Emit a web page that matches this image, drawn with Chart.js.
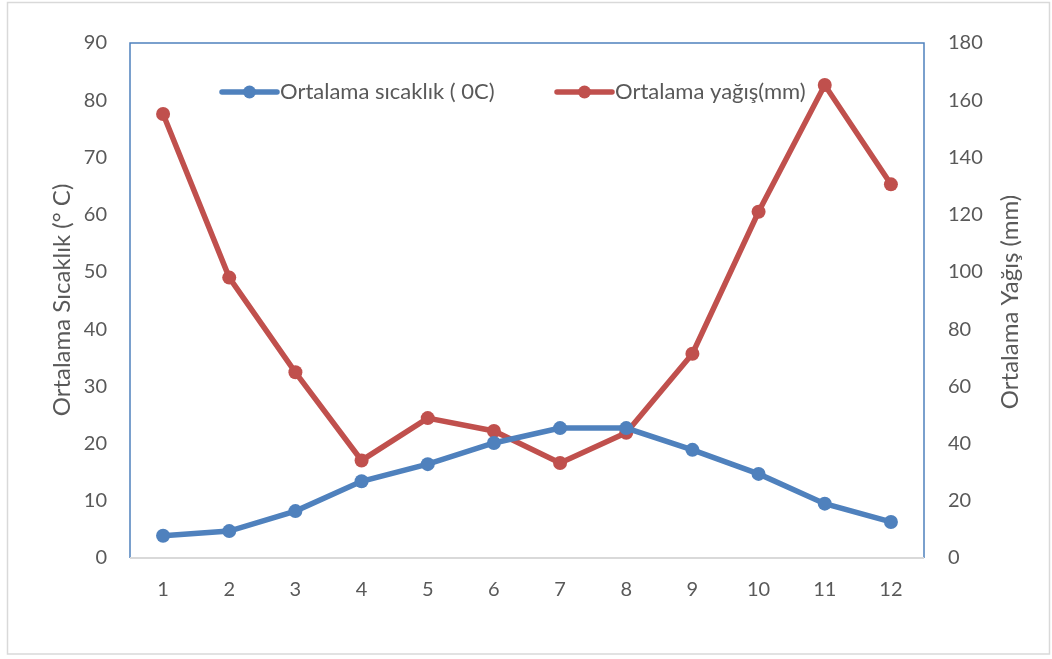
<!DOCTYPE html>
<html>
<head>
<meta charset="utf-8">
<script src="https://cdn.jsdelivr.net/npm/chart.js@4"></script>
<style>
  html, body { margin: 0; padding: 0; background: #ffffff; }
  canvas { display: block; }
</style>
</head>
<body>
<canvas id="c" width="1052" height="659"></canvas>
<script>
// Monthly climate summary: mean temperature (left axis) and mean precipitation (right axis)
const months = ['1', '2', '3', '4', '5', '6', '7', '8', '9', '10', '11', '12'];
const temperature = [3.9, 4.7, 8.2, 13.4, 16.4, 20.1, 22.7, 22.7, 18.9, 14.7, 9.5, 6.3];
const precipitation = [155.2, 98.0, 64.9, 34.1, 48.9, 44.4, 33.2, 43.8, 71.4, 121.0, 165.3, 130.6];
const seriesNames = ['Ortalama sıcaklık ( 0C)', 'Ortalama yağış(mm)'];
const axisTitles = ['Ortalama Sıcaklık (° C)', 'Ortalama Yağış (mm)'];

const FONT = 'Lato, "Open Sans", sans-serif';
const TEXT = '#595959';
const BLUE = '#4f81bd';
const RED = '#c0504d';

// Frame, axis titles and an in-plot legend
const decorations = {
  id: 'decorations',
  beforeDatasetsDraw(chart) {
    const { ctx, chartArea: a } = chart;
    ctx.save();
    // outer chart border
    ctx.strokeStyle = '#d9d9d9';
    ctx.lineWidth = 1.5;
    ctx.strokeRect(7.5, 2.5, 1042, 651.5);
    // plot area border
    ctx.strokeStyle = BLUE;
    ctx.lineWidth = 1.5;
    ctx.beginPath();
    ctx.moveTo(a.left, a.bottom);
    ctx.lineTo(a.left, a.top);
    ctx.lineTo(a.right, a.top);
    ctx.lineTo(a.right, a.bottom);
    ctx.stroke();
    // category axis line
    ctx.strokeStyle = '#d9d9d9';
    ctx.lineWidth = 2;
    ctx.beginPath();
    ctx.moveTo(a.left, a.bottom);
    ctx.lineTo(a.right, a.bottom);
    ctx.stroke();
    ctx.restore();
  },
  afterDraw(chart) {
    const { ctx } = chart;
    ctx.save();
    ctx.fillStyle = TEXT;
    ctx.font = '24px ' + FONT;
    ctx.textAlign = 'center';
    ctx.textBaseline = 'middle';
    // axis titles
    [[62, 300, axisTitles[0]], [1010, 302, axisTitles[1]]].forEach(([x, y, t]) => {
      ctx.save();
      ctx.translate(x, y);
      ctx.rotate(-Math.PI / 2);
      ctx.fillText(t, 0, 0);
      ctx.restore();
    });
    // legend entries
    ctx.font = '22px ' + FONT;
    const entries = [{ x: 222, ds: chart.data.datasets[0] }, { x: 557, ds: chart.data.datasets[1] }];
    const ly = 92;
    entries.forEach(({ x, ds }) => {
      ctx.strokeStyle = ds.borderColor;
      ctx.lineWidth = ds.borderWidth;
      ctx.lineCap = 'round';
      ctx.beginPath();
      ctx.moveTo(x, ly);
      ctx.lineTo(x + 55, ly);
      ctx.stroke();
      ctx.fillStyle = ds.pointBackgroundColor;
      ctx.beginPath();
      ctx.arc(x + 27.5, ly, 6.5, 0, Math.PI * 2);
      ctx.fill();
      ctx.fillStyle = TEXT;
      ctx.textAlign = 'left';
      ctx.fillText(ds.label, x + 58, ly);
    });
    ctx.restore();
  }
};

new Chart(document.getElementById('c'), {
  type: 'line',
  data: {
    labels: months,
    datasets: [
      {
        label: seriesNames[0],
        data: temperature,
        yAxisID: 'yTemp',
        borderColor: BLUE,
        backgroundColor: BLUE,
        pointBackgroundColor: BLUE,
        pointBorderColor: BLUE,
        borderWidth: 5.5,
        pointRadius: 7,
        pointBorderWidth: 0,
        tension: 0
      },
      {
        label: seriesNames[1],
        data: precipitation,
        yAxisID: 'yRain',
        borderColor: RED,
        backgroundColor: RED,
        pointBackgroundColor: RED,
        pointBorderColor: RED,
        borderWidth: 5.5,
        pointRadius: 7,
        pointBorderWidth: 0,
        tension: 0
      }
    ]
  },
  options: {
    responsive: false,
    animation: false,
    events: [],
    layout: { padding: { top: 43, left: 0, right: 0, bottom: 0 } },
    plugins: { legend: { display: false }, tooltip: { enabled: false } },
    scales: {
      x: {
        type: 'category',
        offset: true,
        grid: { display: false, drawTicks: false },
        border: { display: false },
        ticks: { color: TEXT, font: { family: FONT, size: 20 }, padding: 20, maxRotation: 0 },
        afterFit(scale) { scale.height = 101; }
      },
      yTemp: {
        position: 'left',
        min: 0, max: 90,
        grid: { display: false, drawTicks: false },
        border: { display: false },
        ticks: { stepSize: 10, color: TEXT, font: { family: FONT, size: 20 }, padding: 23 },
        afterFit(scale) { scale.width = 130; }
      },
      yRain: {
        position: 'right',
        min: 0, max: 180,
        grid: { display: false, drawTicks: false },
        border: { display: false },
        ticks: { stepSize: 20, color: TEXT, font: { family: FONT, size: 20 }, padding: 24 },
        afterFit(scale) { scale.width = 128; }
      }
    }
  },
  plugins: [decorations]
});
</script>
</body>
</html>
